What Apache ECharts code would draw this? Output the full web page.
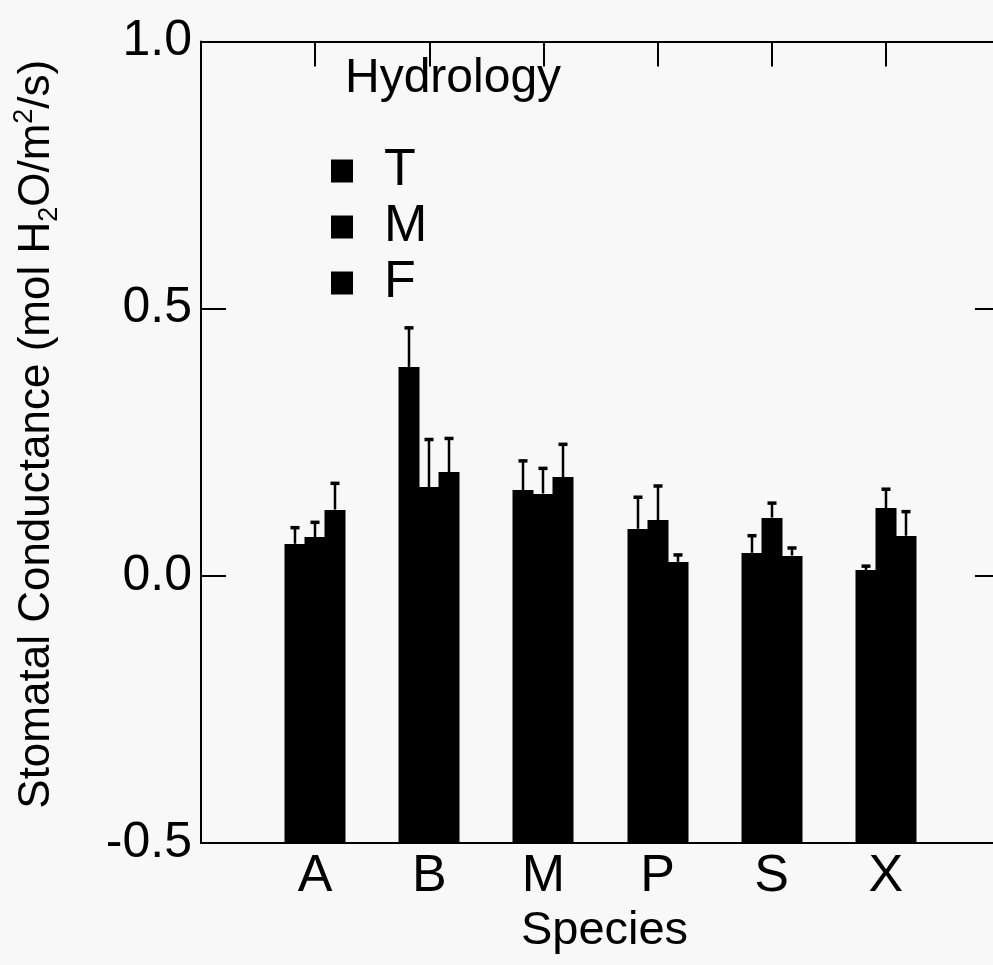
<!DOCTYPE html>
<html>
<head>
<meta charset="utf-8">
<script src="https://cdn.jsdelivr.net/npm/echarts@6/dist/echarts.min.js"></script>
<style>
  html, body { margin: 0; padding: 0; background: #f8f8f8; }
  #chart { width: 993px; height: 965px; }
</style>
</head>
<body>
<div id="chart"></div>
<script>
// Species sampled and the hydrology classes
const species = ['A', 'B', 'M', 'P', 'S', 'X'];
const hydrology = ['T', 'M', 'F'];

// Mean stomatal conductance (mol H2O/m2/s) per species, one list per hydrology class
const meanT = [0.060, 0.391, 0.160, 0.088, 0.043, 0.011];
const meanM = [0.072, 0.166, 0.154, 0.104, 0.109, 0.127];
const meanF = [0.124, 0.194, 0.185, 0.026, 0.038, 0.075];

// Standard errors (drawn upward from each bar)
const seT = [0.032, 0.075, 0.057, 0.061, 0.034, 0.009];
const seM = [0.030, 0.091, 0.049, 0.066, 0.029, 0.037];
const seF = [0.051, 0.065, 0.063, 0.015, 0.016, 0.047];

// Value axis ticks
const yTicks = [-0.5, 0.0, 0.5, 1.0];

const FONT = '"Liberation Sans", Arial, sans-serif';
const BAR_W = 20;

// Padded category list so the species sit on ticks one step in from each edge
const axisCats = [''].concat(species, [' ']);

function groupSeries(name, means, errs, slot) {
  return {
    type: 'custom',
    name: name,
    xAxisIndex: 0,
    yAxisIndex: 0,
    itemStyle: { color: '#000' },
    encode: { x: 0, y: [1, 2] },
    data: species.map((s, i) => [s, means[i], means[i] + errs[i]]),
    renderItem: function (params, api) {
      const cat = api.value(0);
      const base = api.coord([cat, yTicks[0]]);
      const top = api.coord([cat, api.value(1)]);
      const cap = api.coord([cat, api.value(2)]);
      const cx = Math.round(base[0] + (slot - 1) * BAR_W);
      const x0 = cx - BAR_W / 2;
      return {
        type: 'group',
        children: [
          {
            type: 'rect',
            // slight overlap so neighbouring bars read as one solid block
            shape: { x: x0 - 0.5, y: Math.round(top[1]), width: BAR_W + 1, height: base[1] - Math.round(top[1]) },
            style: { fill: '#000' }
          },
          {
            type: 'line',
            shape: { x1: cx, y1: top[1], x2: cx, y2: cap[1] },
            style: { stroke: '#000', lineWidth: 2.5 }
          },
          {
            type: 'line',
            shape: { x1: cx - 4.5, y1: cap[1] + 1, x2: cx + 4.5, y2: cap[1] + 1 },
            style: { stroke: '#000', lineWidth: 3.5 }
          }
        ]
      };
    }
  };
}

const axisLine = { show: true, onZero: false, lineStyle: { color: '#000', width: 2 } };
const tickIn = { show: true, inside: true, length: 25, lineStyle: { color: '#000', width: 2 } };

const chart = echarts.init(document.getElementById('chart'), null, { renderer: 'canvas' });

chart.setOption({
  backgroundColor: '#f8f8f8',
  animation: false,
  textStyle: { fontFamily: FONT },
  title: {
    text: 'Hydrology',
    left: 345,
    top: 55,
    padding: 0,
    textStyle: { fontSize: 48, fontWeight: 'normal', color: '#000', fontFamily: FONT }
  },
  legend: {
    data: hydrology,
    orient: 'vertical',
    left: 331,
    top: 143,
    padding: 0,
    itemGap: 0,
    icon: 'rect',
    itemWidth: 22,
    itemHeight: 23,
    selectedMode: false,
    textStyle: {
      fontSize: 52, color: '#000', fontFamily: FONT,
      lineHeight: 40, padding: [0, 0, 16, 26]
    }
  },
  grid: {
    left: 201, width: 799, top: 41.5, bottom: 122,
    containLabel: false,
    outerBoundsMode: 'none'
  },
  xAxis: [
    {
      type: 'category',
      data: axisCats,
      boundaryGap: false,
      position: 'bottom',
      axisLine: axisLine,
      axisTick: tickIn,
      axisLabel: { fontSize: 52, color: '#000', margin: 8, fontFamily: FONT },
      splitLine: { show: false },
      name: 'Species',
      nameLocation: 'middle',
      nameGap: 65,
      nameTextStyle: { fontSize: 47, color: '#000', fontFamily: FONT, padding: [0, 0, 0, 8] }
    },
    {
      type: 'category',
      data: axisCats,
      boundaryGap: false,
      position: 'top',
      axisLine: axisLine,
      axisTick: tickIn,
      axisLabel: { show: false },
      splitLine: { show: false }
    }
  ],
  yAxis: [
    {
      type: 'value',
      min: yTicks[0],
      max: yTicks[yTicks.length - 1],
      interval: yTicks[1] - yTicks[0],
      position: 'left',
      axisLine: axisLine,
      axisTick: tickIn,
      axisLabel: {
        fontSize: 50, color: '#000', margin: 9, fontFamily: FONT,
        formatter: v => v.toFixed(1)
      },
      splitLine: { show: false },
      name: 'Stomatal Conductance (mol H{sub|2}O/m{sup|2}/s)',
      nameLocation: 'middle',
      nameRotate: 90,
      nameGap: 138,
      nameTextStyle: {
        fontSize: 44, color: '#000', fontFamily: FONT, lineHeight: 52,
        padding: [0, 0, 0, 16],
        rich: {
          sub: { fontSize: 27, fontFamily: FONT, color: '#000', verticalAlign: 'bottom', lineHeight: 52 },
          sup: { fontSize: 27, fontFamily: FONT, color: '#000', verticalAlign: 'top', lineHeight: 52 }
        }
      }
    },
    {
      type: 'value',
      min: yTicks[0],
      max: yTicks[yTicks.length - 1],
      interval: yTicks[1] - yTicks[0],
      position: 'right',
      axisLine: axisLine,
      axisTick: tickIn,
      axisLabel: { show: false },
      splitLine: { show: false }
    }
  ],
  series: [
    groupSeries('T', meanT, seT, 0),
    groupSeries('M', meanM, seM, 1),
    groupSeries('F', meanF, seF, 2)
  ]
});
</script>
</body>
</html>
